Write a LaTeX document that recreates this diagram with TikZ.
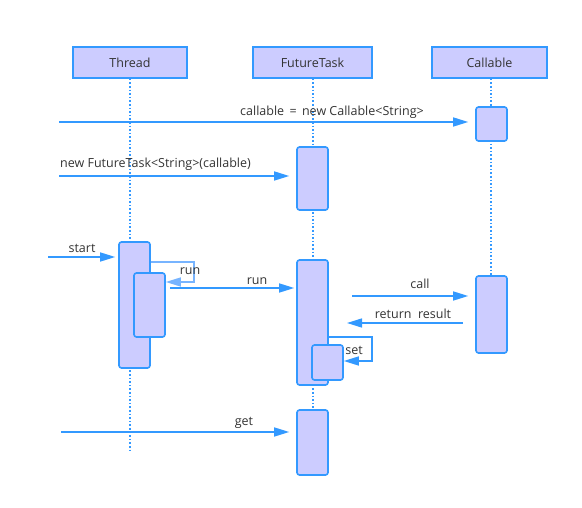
\documentclass[tikz,border=0pt]{standalone}
\usepackage{fontspec}
\setmainfont{Open Sans}
\usetikzlibrary{arrows.meta}
\definecolor{lb}{HTML}{3399FF}
\definecolor{lbl}{HTML}{77B4FF}
\definecolor{fillc}{HTML}{CCCCFF}
\definecolor{txt}{HTML}{333333}
\begin{document}
\begin{tikzpicture}[x=1pt,y=-1pt,
  font=\fontsize{12.5}{14}\selectfont, text=txt,
  head/.style={draw=lb, fill=fillc, line width=1.6pt, minimum width=114pt, minimum height=31pt, inner sep=0pt},
  act/.style={draw=lb, fill=fillc, line width=1.6pt, rounded corners=2.5pt, inner sep=0pt},
  life/.style={draw=lb, line width=1.6pt, dotted},
  msg/.style={draw=lb, line width=1.5pt, -{Triangle[length=15pt,width=9pt]}},
  selfmsg/.style={draw=lbl, line width=1.5pt, -{Triangle[length=15pt,width=9pt]}},
  lab/.style={inner sep=0pt, anchor=base}]
\useasboundingbox (0,0) rectangle (582,508);
% headers
\node[head] (thread) at (130,62.5) {Thread};
\node[head, minimum width=119pt] (ft) at (312.5,62.5) {FutureTask};
\node[head, minimum width=115pt] (callable) at (489.5,62.5) {Callable};
% lifelines
\coordinate (tEnd) at (130,450);
\coordinate (fEnd) at (313,410);
\coordinate (cEnd) at (491,276);
\draw[life] (thread.south) -- (tEnd);
\draw[life] (ft.south -| 313,0) -- (fEnd);
\draw[life] (callable.south -| 491,0) -- (cEnd);
% activations
\node[act, minimum width=31pt, minimum height=34pt] (c1) at (491.5,124) {};
\node[act, minimum width=31pt, minimum height=77pt] (c2) at (491.5,314.5) {};
\node[act, minimum width=31pt, minimum height=63pt] (f1) at (312.5,178.5) {};
\node[act, minimum width=31pt, minimum height=125pt] (f2) at (312.5,322.5) {};
\node[act, minimum width=31pt, minimum height=35pt] (f2n) at (327.5,362.5) {};
\node[act, minimum width=31pt, minimum height=65pt] (f3) at (312.5,442.5) {};
\node[act, minimum width=31pt, minimum height=126pt] (t1) at (134.5,305) {};
\node[act, minimum width=31pt, minimum height=64pt] (t1n) at (149.5,305) {};
% message endpoints
\coordinate (m1s) at (59,122);
\coordinate (m2s) at (59,176);
\coordinate (m3s) at (48,257);
\coordinate (m9s) at (61,432);
\coordinate (runs) at (170,288);
\coordinate (calls) at (352,296);
\coordinate (rets) at (463,323);
\coordinate (rete) at (347,323);
% messages
\draw[msg, shorten >=7pt] (m1s) -- (c1.west |- 0,122);
\node[lab] (l1) at (332,116) {callable\,\ =\,\ new Callable<String>};
\draw[msg, shorten >=7pt] (m2s) -- (f1.west |- 0,176);
\node[lab, anchor=base west] (l2) at (60,168) {new FutureTask<String>(callable)};
\draw[msg, shorten >=3pt] (m3s) -- (t1.west |- 0,257);
\node[lab] (l3) at (82,253) {start};
\draw[selfmsg] (t1.east |- 0,262) -- (194,262) -- (194,282) -- (t1n.east |- 0,282);
\node[lab] (l4) at (190,275) {run};
\draw[msg, shorten >=2pt] (runs) -- (f2.west |- 0,288);
\node[lab] (l5) at (257,285) {run};
\draw[msg, shorten >=7pt] (calls) -- (c2.west |- 0,296);
\node[lab] (l6) at (420,289) {call};
\draw[msg] (rets) -- (rete);
\node[lab] (l7) at (413,319) {return\ \ result};
\draw[msg] (f2.east |- 0,337) -- (372,337) -- (372,361) -- (f2n.east |- 0,361);
\node[lab] (l8) at (354,355) {set};
\draw[msg, shorten >=7pt] (m9s) -- (f3.west |- 0,432);
\node[lab] (l9) at (244,425) {get};
\end{tikzpicture}
\end{document}
